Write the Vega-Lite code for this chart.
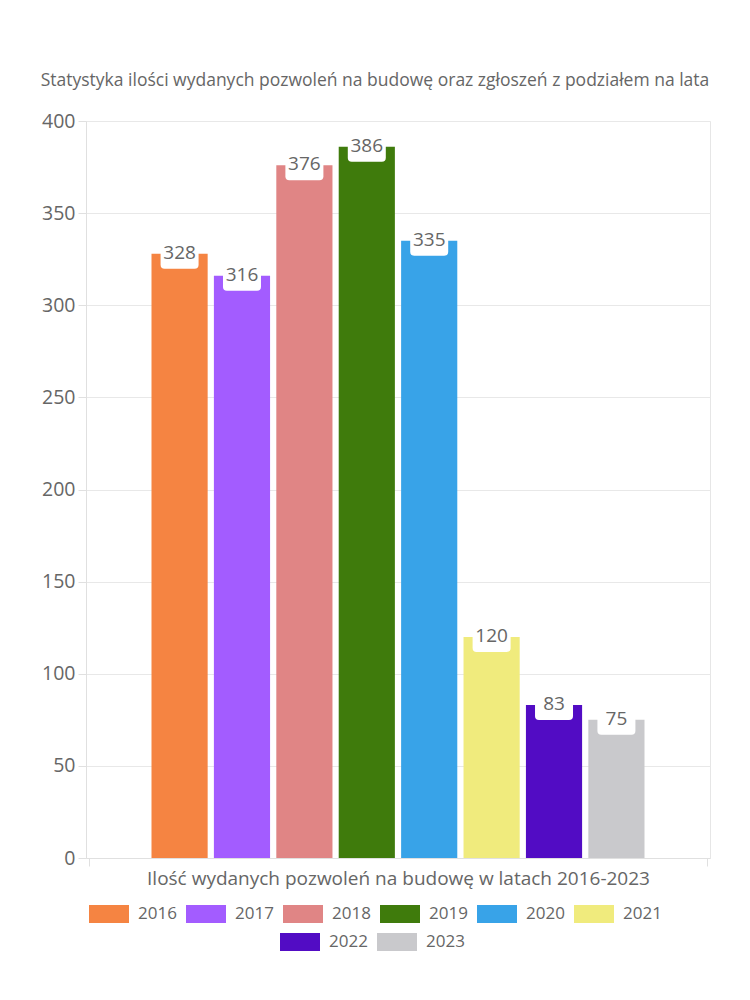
{
  "$schema": "https://vega.github.io/schema/vega-lite/v6.json",
  "width": 624,
  "height": 737,
  "autosize": {"type": "none"},
  "padding": {"left": 86, "top": 121, "right": 40, "bottom": 142},
  "background": "white",
  "title": {
    "text": "Statystyka ilości wydanych pozwoleń na budowę oraz zgłoszeń z podziałem na lata",
    "fontSize": 17.5,
    "font": "Open Sans",
    "fontWeight": "normal",
    "color": "#666666",
    "anchor": "middle",
    "dx": -23,
    "offset": 22
  },
  "config": {
    "view": {"stroke": "#e6e6e6"},
    "font": "Open Sans"
  },
  "data": {
    "values": [
      {"cat": "Ilość wydanych pozwoleń na budowę w latach 2016-2023", "year": "2016", "value": 328},
      {"cat": "Ilość wydanych pozwoleń na budowę w latach 2016-2023", "year": "2017", "value": 316},
      {"cat": "Ilość wydanych pozwoleń na budowę w latach 2016-2023", "year": "2018", "value": 376},
      {"cat": "Ilość wydanych pozwoleń na budowę w latach 2016-2023", "year": "2019", "value": 386},
      {"cat": "Ilość wydanych pozwoleń na budowę w latach 2016-2023", "year": "2020", "value": 335},
      {"cat": "Ilość wydanych pozwoleń na budowę w latach 2016-2023", "year": "2021", "value": 120},
      {"cat": "Ilość wydanych pozwoleń na budowę w latach 2016-2023", "year": "2022", "value": 83},
      {"cat": "Ilość wydanych pozwoleń na budowę w latach 2016-2023", "year": "2023", "value": 75}
    ]
  },
  "encoding": {
    "x": {
      "field": "cat",
      "type": "nominal",
      "scale": {"paddingInner": 0, "paddingOuter": 0.005},
      "axis": {
        "title": "Ilość wydanych pozwoleń na budowę w latach 2016-2023",
        "titleFontSize": 19,
        "titleFont": "Open Sans",
        "titleFontWeight": "normal",
        "titleColor": "#666666",
        "titlePadding": 3,
        "labels": false,
        "ticks": true,
        "tickBand": "extent",
        "tickSize": 8,
        "tickColor": "#e0e0e0",
        "domainColor": "#e0e0e0",
        "grid": false
      }
    },
    "xOffset": {
      "field": "year",
      "type": "nominal",
      "scale": {
        "domain": ["2016", "2017", "2018", "2019", "2020", "2021", "2022", "2023"],
        "paddingInner": 0.1,
        "paddingOuter": 1
      }
    },
    "y": {
      "field": "value",
      "type": "quantitative",
      "scale": {"domain": [0, 400], "nice": false},
      "axis": {
        "title": null,
        "values": [0, 50, 100, 150, 200, 250, 300, 350, 400],
        "labelFontSize": 19.5,
        "labelColor": "#666666",
        "labelPadding": 3,
        "tickSize": 8,
        "tickColor": "#e0e0e0",
        "domainColor": "#e0e0e0",
        "gridColor": "#e8e8e8"
      }
    }
  },
  "layer": [
    {
      "transform": [{"filter": {"field": "year", "oneOf": ["2016", "2017", "2018", "2019", "2020", "2021"]}}],
      "mark": {"type": "bar"},
      "encoding": {
        "color": {
          "field": "year",
          "type": "nominal",
          "scale": {
            "domain": ["2016", "2017", "2018", "2019", "2020", "2021"],
            "range": ["#F58442", "#A35CFF", "#E08585", "#3F7B0C", "#38A3E8", "#F0EB7D"]
          },
          "legend": {
            "orient": "none",
            "legendX": 3,
            "legendY": 773,
            "direction": "horizontal",
            "title": null,
            "symbolType": "M-1,-0.45L1,-0.45L1,0.45L-1,0.45Z",
            "symbolSize": 1600,
            "symbolStrokeWidth": 0,
            "symbolOpacity": 1,
            "labelFontSize": 17,
            "labelColor": "#666666",
            "labelOffset": 9,
            "columnPadding": 9
          }
        }
      }
    },
    {
      "transform": [{"filter": {"field": "year", "oneOf": ["2022", "2023"]}}],
      "mark": {"type": "bar"},
      "encoding": {
        "fill": {
          "field": "year",
          "type": "nominal",
          "scale": {
            "domain": ["2022", "2023"],
            "range": ["#520CC4", "#C9C9CC"]
          },
          "legend": {
            "orient": "none",
            "legendX": 194,
            "legendY": 801,
            "direction": "horizontal",
            "title": null,
            "symbolType": "M-1,-0.45L1,-0.45L1,0.45L-1,0.45Z",
            "symbolSize": 1600,
            "symbolStrokeWidth": 0,
            "symbolOpacity": 1,
            "labelFontSize": 17,
            "labelColor": "#666666",
            "labelOffset": 9,
            "columnPadding": 9
          }
        }
      }
    },
    {
      "mark": {
        "type": "point",
        "shape": "M-1,-0.2L1,-0.2L1,0.58Q1,0.79 0.79,0.79L-0.79,0.79Q-1,0.79 -1,0.58Z",
        "filled": true,
        "fill": "white",
        "opacity": 1,
        "strokeWidth": 0,
        "size": 1444
      }
    },
    {
      "mark": {
        "type": "text",
        "baseline": "middle",
        "dy": -1,
        "fontSize": 19,
        "color": "#666666"
      },
      "encoding": {
        "text": {"field": "value", "type": "quantitative"}
      }
    }
  ]
}
